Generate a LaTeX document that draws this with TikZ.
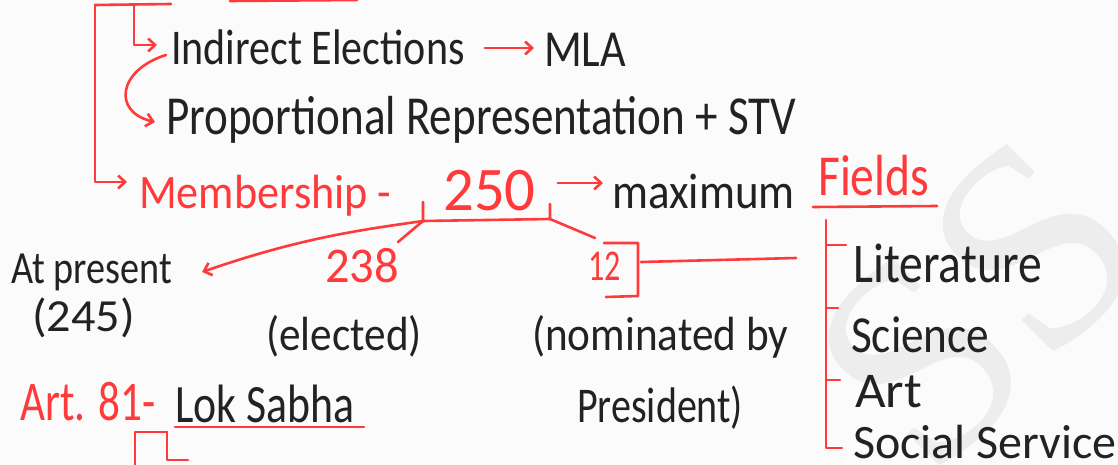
\documentclass[tikz,border=0pt]{standalone}
\usepackage{fontspec}
\setmainfont{Carlito}
\newfontfamily\markfont{Liberation Serif}
\usepackage{xcolor}
\usetikzlibrary{arrows.meta, positioning, calc}

\definecolor{inkred}{HTML}{FF3A3A}
\definecolor{inkblack}{HTML}{222222}
\definecolor{paper}{HTML}{FBFBFB}
\definecolor{mark}{HTML}{EDEDED}

\begin{document}
\begin{tikzpicture}[
    x=1pt, y=-1pt,
    note/.style={inner sep=0pt, anchor=base west, text=inkblack, transform shape},
    hw/.style 2 args={note, font=\fontsize{#1}{#1}\selectfont, xscale=#2},
    red/.style={text=inkred},
    pen/.style={draw=inkred, line width=2.6pt, line cap=round, line join=round},
    arrow/.style={pen, -{Straight Barb[length=7pt, width=13pt]}}
]
\fill[paper] (0,0) rectangle (1118,465);
\useasboundingbox (0,0) rectangle (1118,465);

% watermark
\node[text=mark, font=\markfont\fontsize{290}{290}\selectfont, rotate=45,
      inner sep=0pt] (wm) at (978,304) {SS};

% top block
\node[hw={50}{0.84}] (indirect) at (171,65) {Indirect Elections};
\node[hw={52}{0.85}] (mla) at (544,67) {MLA};
\node[hw={55}{0.82}] (prop) at (166,135) {Proportional Representation + STV};
\node[hw={48}{0.92}, red] (member) at (139,208) {Membership -};
\node[hw={62}{0.98}, red] (n250) at (443,210) {250};
\node[hw={50}{0.9}] (maxi) at (612,208) {maximum};
\node[hw={58}{0.82}, red] (fields) at (818,195) {Fields};

\coordinate (topl) at (95,5);
\coordinate (topm) at (134,5);
\draw[pen] (171,4) -- (topl);
\draw[pen] (230,1) -- (357,0);
\draw[arrow] (topl) -- (95,182) -- ([xshift=-12pt]member.west |- 0,182);
\draw[arrow] (topm) -- (134,45) -- ([xshift=-14pt]indirect.west |- 0,45);
\draw[arrow] ([xshift=20pt]indirect.east |- 0,48) -- ([xshift=-10pt]mla.west |- 0,48);
\draw[arrow] (166,55) .. controls (118,70) and (112,112) .. ([xshift=-11pt]prop.west |- 0,122);

% 250 and its split
\coordinate (bl) at (423,221);
\coordinate (br) at (550,219);
\draw[pen] (423,202) -- (bl) -- (br) -- (550,204);
\draw[arrow] ([xshift=22pt]n250.east |- 0,183) -- ([xshift=-9pt]maxi.west |- 0,183);

\node[hw={46}{0.83}] (atpres) at (11,283) {At present};
\node[hw={46}{1.05}] (p245) at (32,331) {(245)};
\node[hw={50}{0.97}, red] (n238) at (325,282) {238};
\node[hw={44}{0.73}, red] (n12) at (588,280) {12};
\node[hw={48}{0.9}] (elected) at (266,350) {(elected)};
\node[hw={48}{0.9}] (nominated) at (532,350) {(nominated by};
\node[hw={50}{0.8}] (president) at (577,422) {President)};

\draw[arrow] (bl) .. controls (360,230) and (300,238) .. ([xshift=30pt]atpres.east |- 0,272);
\draw[pen] (bl) -- (398,242);
\draw[pen] (br) -- (595,238);
\draw[pen] (604,243) -- (638,243) -- (638,296) -- (606,297);
\draw[pen] (641,262) -- (796,258);

% fields list
\node[hw={56}{0.85}] (lit) at (853,282) {Literature};
\node[hw={52}{0.87}] (sci) at (851,352) {Science};
\node[hw={50}{1.06}] (art) at (855,407) {Art};
\node[hw={48}{1.0}] (social) at (853,458) {Social Service};

\draw[pen] (813,207) -- (937,206);
\draw[pen] (826,220) -- (826,448) -- (842,448);
\draw[pen] (826,245) -- (846,245);
\draw[pen] (826,308) -- (838,308);
\draw[pen] (826,380) -- (840,380);

% Lok Sabha
\node[hw={56}{0.77}, red] (art81) at (20,420) {Art. 81-};
\node[hw={54}{0.81}] (lok) at (175,422) {Lok Sabha};
\draw[pen] (175,427) -- (364,427);
\draw[pen] (135,466) -- (135,432) -- (167,432);
\draw[pen] (167,432) -- (167,460) -- (188,460);

\end{tikzpicture}
\end{document}
